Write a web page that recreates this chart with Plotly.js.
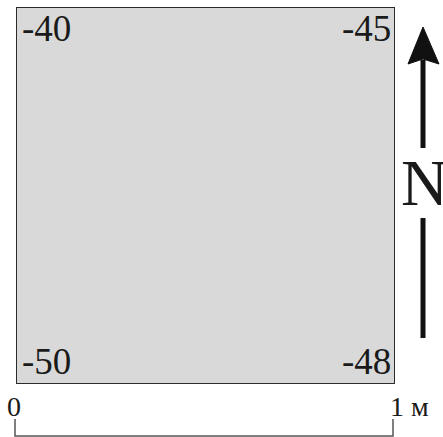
<!DOCTYPE html>
<html>
<head>
<meta charset="utf-8">
<script src="https://cdn.plot.ly/plotly-3.0.1.min.js"></script>
<style>html,body{margin:0;padding:0;background:#fff;}#chart{width:443px;height:437px;}</style>
</head>
<body>
<div id="chart"></div>
<script>
// Corner elevations of the plot (values written at the square's corners)
var cornerValues = [-40, -45, -50, -48];
var cornerX = [0, 1, 0, 1];
var cornerY = [1, 1, 0, 0];
// Scale bar
var scaleTicks = [0, 1];
var scaleLabels = ['0', '1 м'];
// North marker
var northLabel = 'N';

var W = 443, H = 437;
var margin = {l: 16, r: 48, t: 7, b: 53};
var pw = W - margin.l - margin.r, ph = H - margin.t - margin.b;
function px(x) { return (x - margin.l) / pw; }
function py(y) { return (H - margin.b - y) / ph; }

var serif = 'Liberation Serif, Times New Roman, serif';
var textColor = '#1a1a1a';

var annotations = [];
cornerValues.forEach(function (v, i) {
  var left = cornerX[i] === 0, top = cornerY[i] === 1;
  annotations.push({
    x: cornerX[i], y: cornerY[i], xref: 'x', yref: 'y',
    text: String(v), showarrow: false,
    xanchor: left ? 'left' : 'right', yanchor: top ? 'top' : 'bottom',
    xshift: left ? 4 : -2, yshift: top ? 1 : 0,
    font: {family: serif, size: 37, color: textColor}
  });
});
scaleTicks.forEach(function (t, i) {
  annotations.push({
    x: t, y: py(389), xref: 'x', yref: 'paper',
    text: scaleLabels[i], showarrow: false,
    xanchor: i === 0 ? 'center' : 'left', yanchor: 'top',
    xshift: i === 0 ? -2 : -7,
    font: {family: serif, size: 28, color: textColor}
  });
});
annotations.push({
  x: px(424), y: py(145), xref: 'paper', yref: 'paper',
  text: northLabel, showarrow: false, xanchor: 'center', yanchor: 'top',
  font: {family: serif, size: 65, color: textColor}
});

var shapes = [
  {type: 'rect', xref: 'x', yref: 'y', x0: 0, x1: 1, y0: 0, y1: 1,
   fillcolor: '#d9d9d9', line: {color: '#2b2b2b', width: 2}, layer: 'below'},
  // north arrow
  {type: 'path', xref: 'paper', yref: 'paper',
   path: 'M ' + px(408) + ' ' + py(64) + ' L ' + px(423) + ' ' + py(27) + ' L ' + px(439) + ' ' + py(64) +
         ' L ' + px(423) + ' ' + py(59) + ' Z',
   fillcolor: '#111', line: {color: '#111', width: 1}},
  {type: 'line', xref: 'paper', yref: 'paper', x0: px(423), x1: px(423), y0: py(60), y1: py(148),
   line: {color: '#111', width: 5}},
  {type: 'line', xref: 'paper', yref: 'paper', x0: px(423), x1: px(423), y0: py(218), y1: py(338),
   line: {color: '#111', width: 5}},
  // scale bar
  {type: 'path', xref: 'paper', yref: 'paper',
   path: 'M ' + px(15) + ' ' + py(419) + ' L ' + px(15) + ' ' + py(436) + ' L ' + px(393) + ' ' + py(436) +
         ' L ' + px(393) + ' ' + py(419),
   line: {color: '#555', width: 1.5}}
];

var layout = {
  width: W, height: H, margin: margin,
  paper_bgcolor: '#fff', plot_bgcolor: 'rgba(0,0,0,0)',
  xaxis: {range: [0, 1], visible: false, fixedrange: true},
  yaxis: {range: [0, 1], visible: false, fixedrange: true},
  showlegend: false,
  shapes: shapes, annotations: annotations
};
Plotly.newPlot('chart', [{x: cornerX, y: cornerY, type: 'scatter', mode: 'markers',
  marker: {opacity: 0}, hoverinfo: 'skip'}], layout, {staticPlot: true, displayModeBar: false});
</script>
</body>
</html>
